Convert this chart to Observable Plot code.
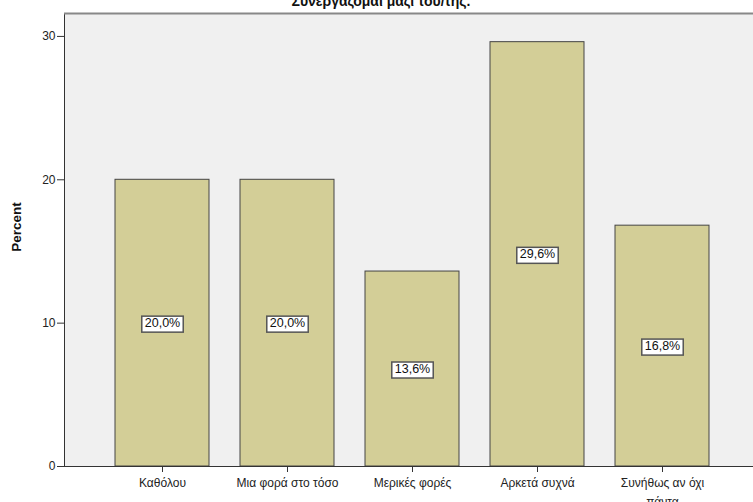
<!DOCTYPE html>
<html>
<head>
<meta charset="utf-8">
<script src="https://cdn.jsdelivr.net/npm/d3@7"></script>
<script src="https://cdn.jsdelivr.net/npm/@observablehq/plot@0.6"></script>
<style>
  body { margin: 0; background: #ffffff; }
  #chart svg { display: block; }
</style>
</head>
<body>
<div id="chart"></div>
<script>
// Survey answers and their share of respondents (%)
const categories = ["Καθόλου", "Μια φορά στο τόσο", "Μερικές φορές", "Αρκετά συχνά", "Συνήθως αν όχι πάντα"];
const tickLabels = ["Καθόλου", "Μια φορά στο τόσο", "Μερικές φορές", "Αρκετά συχνά", "Συνήθως αν όχι\nπάντα"];
const percents = [20.0, 20.0, 13.6, 29.6, 16.8];
const yTicks = [0, 10, 20, 30];
const yMax = 31.6;
const title = "Συνεργάζομαι μαζί του/της.";
const yLabel = "Percent";

const data = categories.map((category, i) => ({category, percent: percents[i]}));
const fmt = v => v.toFixed(1).replace(".", ",") + "%";
const font = "Arial, 'Liberation Sans', Helvetica, sans-serif";

const chart = Plot.plot({
  width: 753,
  height: 502,
  marginTop: 13,
  marginLeft: 64,
  marginRight: 0,
  marginBottom: 36,
  style: {fontFamily: font, fontSize: "12px", color: "#222", background: "#ffffff", overflow: "hidden"},
  x: {domain: categories, range: [64, 759], paddingInner: 0.25, paddingOuter: 0.4, label: null},
  y: {domain: [0, yMax], label: null},
  marks: [
    Plot.frame({fill: "#f0f0f0", stroke: "#333", insetRight: -4}),
    Plot.ruleY([yMax], {stroke: "#888", strokeWidth: 2}),
    Plot.barY(data, {x: "category", y: "percent", fill: "#d3ce97", stroke: "#444", strokeWidth: 1}),
    Plot.ruleY([0], {stroke: "#333"}),
    Plot.axisY({ticks: yTicks, tickSize: 7, tickPadding: 2, label: null, stroke: "#333", fill: "#222"}),
    Plot.axisX({
      tickSize: 6, tickPadding: 1, lineHeight: 1.6, label: null, stroke: "#333", fill: "#222",
      tickFormat: d => tickLabels[categories.indexOf(d)]
    }),
    Plot.text(data, {
      x: "category", y: d => d.percent / 2, text: d => fmt(d.percent),
      fill: "#111", fontSize: 12.5
    }),
    Plot.text([yLabel], {
      frameAnchor: "left", textAnchor: "middle", dx: -48, dy: -13, rotate: -90,
      fontWeight: "bold", fontSize: 13.5, fill: "#111"
    }),
    Plot.text([title], {frameAnchor: "top", dx: -28, dy: -8, lineAnchor: "bottom", fontWeight: "bold", fontSize: 14, fill: "#111"})
  ]
});

document.getElementById("chart").appendChild(chart);

// Put a white boxed background behind each value label
const svgNS = "http://www.w3.org/2000/svg";
chart.querySelectorAll('g[aria-label="text"]').forEach(g => {
  g.querySelectorAll("text").forEach(t => {
    if (!t.textContent.includes("%")) return;
    const b = t.getBBox();
    const r = document.createElementNS(svgNS, "rect");
    r.setAttribute("x", b.x - 3);
    r.setAttribute("y", b.y);
    r.setAttribute("width", b.width + 6);
    r.setAttribute("height", b.height + 2);
    r.setAttribute("fill", "#ffffff");
    r.setAttribute("stroke", "#555");
    r.setAttribute("stroke-width", 1.5);
    const tf = t.getAttribute("transform");
    if (tf) r.setAttribute("transform", tf);
    t.parentNode.insertBefore(r, t);
  });
});
</script>
</body>
</html>
